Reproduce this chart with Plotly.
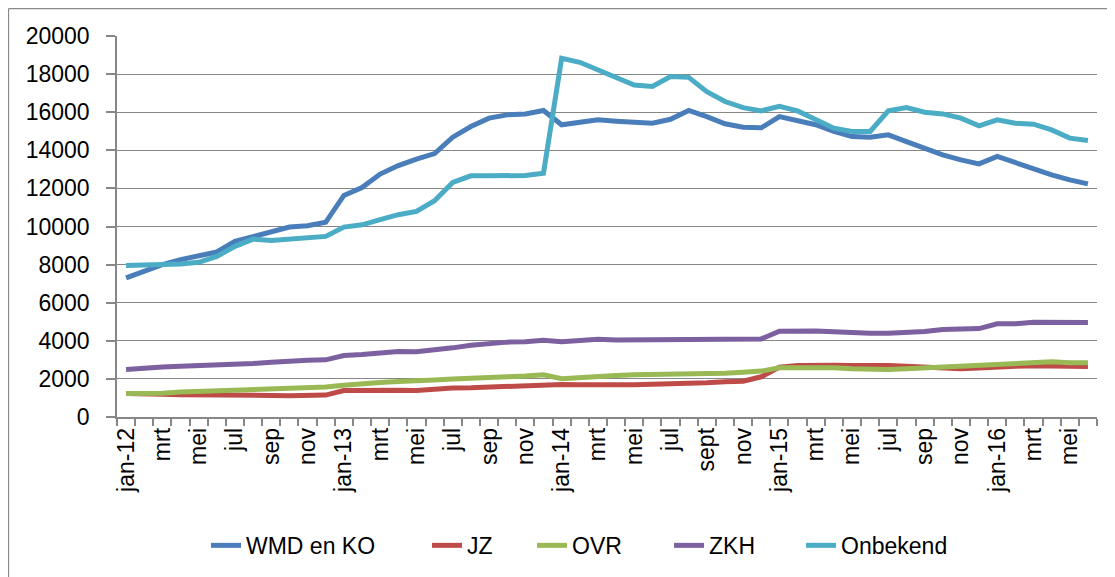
import plotly.graph_objects as go

month_names = ["jan", "feb", "mrt", "apr", "mei", "jun", "jul", "aug", "sep", "okt", "nov", "dec"]
years = ["12", "13", "14", "15", "16"]
months = [f"{m}-{y}" for y in years for m in month_names][:54]  # jan-12 .. jun-16

tick_labels = ["jan-12", "mrt", "mei", "jul", "sep", "nov",
               "jan-13", "mrt", "mei", "jul", "sep", "nov",
               "jan-14", "mrt", "mei", "jul", "sept", "nov",
               "jan-15", "mrt", "mei", "jul", "sep", "nov",
               "jan-16", "mrt", "mei"]

wmd = [7300, 7650, 8000, 8260, 8490, 8660, 9220, 9480, 9750, 9970, 10040, 10220,
       11630, 12050, 12750, 13200, 13540, 13830, 14690, 15250, 15690, 15860, 15910, 16090,
       15340, 15480, 15600, 15530, 15490, 15420, 15630, 16090, 15770, 15390, 15210, 15180,
       15770, 15560, 15340, 14990, 14720, 14690, 14810, 14460, 14110, 13760, 13500, 13290,
       13680, 13360, 13010, 12710, 12450, 12240]

jz = [1240, 1240, 1200, 1170, 1150, 1150, 1150, 1150, 1130, 1120, 1120, 1150,
      1390, 1410, 1410, 1410, 1390, 1480, 1520, 1530, 1570, 1590, 1600, 1660,
      1710, 1690, 1720, 1690, 1690, 1710, 1730, 1740, 1800, 1850, 1880, 2110,
      2620, 2700, 2740, 2720, 2700, 2720, 2700, 2670, 2620, 2550, 2530, 2570,
      2640, 2670, 2690, 2690, 2690, 2650]

ovr = [1240, 1240, 1250, 1310, 1340, 1360, 1380, 1390, 1430, 1480, 1520, 1570,
       1670, 1760, 1810, 1870, 1880, 1940, 1990, 2010, 2080, 2110, 2150, 2220,
       2010, 2080, 2170, 2180, 2215, 2230, 2230, 2250, 2270, 2300, 2355, 2410,
       2580, 2580, 2600, 2580, 2530, 2500, 2500, 2530, 2580, 2635, 2670, 2700,
       2790, 2840, 2880, 2900, 2850, 2850]

zkh = [2500, 2530, 2620, 2670, 2690, 2720, 2790, 2810, 2880, 2950, 2980, 3000,
       3230, 3280, 3350, 3440, 3420, 3510, 3630, 3770, 3860, 3930, 3950, 4030,
       3950, 4030, 4085, 4040, 4040, 4040, 4050, 4040, 4040, 4050, 4040, 4100,
       4500, 4520, 4520, 4470, 4420, 4400, 4400, 4420, 4490, 4590, 4610, 4640,
       4890, 4890, 4975, 4990, 4960, 4960]

onbekend = [7950, 7980, 7950, 8030, 8120, 8430, 8960, 9340, 9270, 9340, 9400, 9480,
            9970, 10090, 10360, 10620, 10790, 11350, 12310, 12660, 12660, 12680, 12680, 12800,
            18830, 18620, 18220, 17780, 17430, 17350, 17870, 17830, 17080, 16560, 16240, 16070,
            16310, 16070, 15600, 15160, 14990, 14990, 16070, 16240, 16000, 15910, 15690, 15280,
            15600, 15420, 15370, 15070, 14640, 14510]

series_names = ["WMD en KO", "JZ", "OVR", "ZKH", "Onbekend"]
series_values = [wmd, jz, ovr, zkh, onbekend]
series_colors = ["#4A7EBB", "#BE4B48", "#98B954", "#7D60A0", "#4BACC6"]
legend_x = [0.0908, 0.3163, 0.4235, 0.5633, 0.698]

x_idx = list(range(len(months)))
font_family = "Liberation Sans, Arial, sans-serif"
grid_col = "#878787"

fig = go.Figure()
legend_ids = ["legend", "legend2", "legend3", "legend4", "legend5"]
for name, vals, color, lid in zip(series_names, series_values, series_colors, legend_ids):
    fig.add_trace(go.Scatter(
        x=x_idx, y=vals, name=name, mode="lines",
        line=dict(color=color, width=5),
        legend=lid,
        text=months, hovertemplate="%{text}: %{y}<extra>" + name + "</extra>",
    ))

legend_common = dict(orientation="h", xanchor="left", y=-0.3335, yanchor="middle",
                     font=dict(size=23, family=font_family), bgcolor="rgba(0,0,0,0)",
                     borderwidth=0)
layout_legends = {}
for lid, lx in zip(legend_ids, legend_x):
    layout_legends[lid] = dict(legend_common, x=lx)

fig.update_layout(
    width=1107, height=569,
    margin=dict(l=109, r=18, t=28, b=159),
    paper_bgcolor="white", plot_bgcolor="white",
    font=dict(family=font_family, size=23, color="black"),
    showlegend=True,
    xaxis=dict(
        range=[-0.5, len(months) - 0.5],
        tickmode="array",
        tickvals=x_idx[::2],
        ticktext=tick_labels,
        tickangle=-90,
        ticks="",
        showgrid=False,
        zeroline=False,
        showline=True, linecolor=grid_col, linewidth=1.5,
        tickfont=dict(size=23),
        minor=dict(tickmode="linear", tick0=-0.5, dtick=1, ticks="outside",
                   ticklen=7, tickcolor=grid_col, tickwidth=1.5, showgrid=False),
        fixedrange=True,
        automargin=False,
    ),
    yaxis=dict(
        range=[0, 20000], dtick=2000, tick0=0,
        tickformat="d",
        showgrid=True, gridcolor=grid_col, gridwidth=1.3,
        zeroline=False,
        showline=True, linecolor=grid_col, linewidth=1.5,
        ticks="outside", ticklen=9, tickcolor=grid_col, tickwidth=1.5,
        tickfont=dict(size=23),
        ticklabelstandoff=12,
        fixedrange=True,
        automargin=False,
    ),
    **layout_legends,
)

# chart outer border (left and top), as in the reference picture
fig.add_shape(type="line", xref="paper", yref="paper",
              x0=-0.1107, x1=-0.1107, y0=1.072, y1=-0.42,
              line=dict(color="#8a8a8a", width=1.3))
fig.add_shape(type="line", xref="paper", yref="paper",
              x0=-0.1107, x1=1.02, y0=1.072, y1=1.072,
              line=dict(color="#8a8a8a", width=1.3))

fig.write_html("out.html")
